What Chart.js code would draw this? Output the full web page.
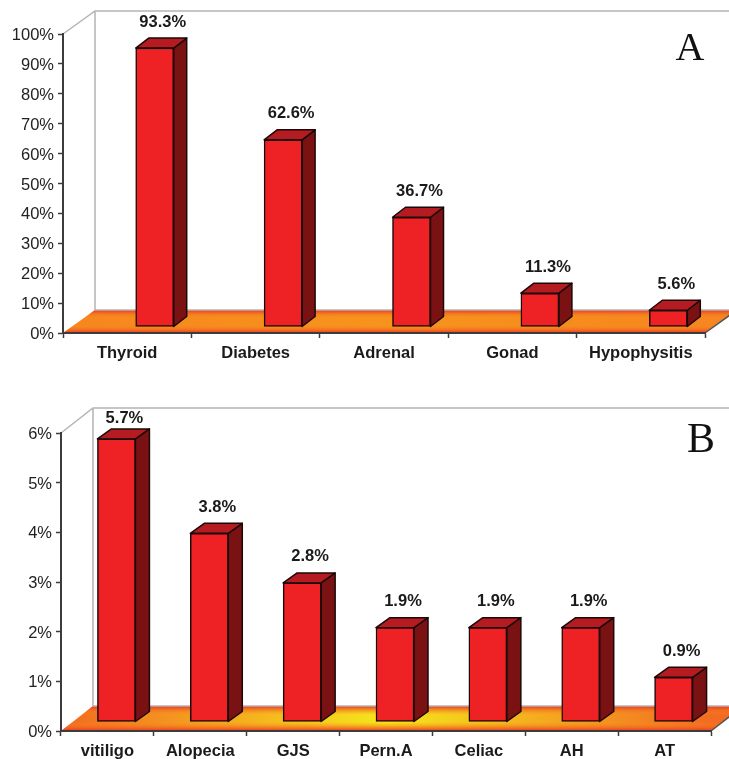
<!DOCTYPE html>
<html>
<head>
<meta charset="utf-8">
<style>
  html, body { margin: 0; padding: 0; background: #fff; }
  canvas { position: absolute; left: 0; }
  #chartA { top: 0; }
  #chartB { top: 380px; }
</style>
<script src="https://cdn.jsdelivr.net/npm/chart.js@4.4.3/dist/chart.umd.js"></script>
</head>
<body>
<canvas id="chartA"></canvas>
<canvas id="chartB"></canvas>
<script>
// panel A : endocrine
const categoriesA = ['Thyroid', 'Diabetes', 'Adrenal', 'Gonad', 'Hypophysitis'];
const valuesA = [93.3, 62.6, 36.7, 11.3, 5.6];
// panel B : other sites
const categoriesB = ['vitiligo', 'Alopecia', 'GJS', 'Pern.A', 'Celiac', 'AH', 'AT'];
const valuesB = [5.7, 3.8, 2.8, 1.9, 1.9, 1.9, 0.9];

const FRONT = '#ee2224', TOP = '#b51c22', SIDE = '#7a1214', EDGE = '#1c0808';
const FONT = '"Liberation Sans", Arial, sans-serif';

// draws the floor and back wall behind the scales
function drawRoom(chart, p) {
    const { ctx, chartArea: a, width } = chart;
    const bx = a.left + p.depth[0], by = a.bottom + p.depth[1];
    const topY = a.top + p.depth[1];
    ctx.save();
    ctx.beginPath();
    ctx.moveTo(a.left, a.bottom);
    ctx.lineTo(a.right, a.bottom);
    ctx.lineTo(a.right + p.depth[0], by);
    ctx.lineTo(bx, by);
    ctx.closePath();
    ctx.clip();
    const h = ctx.createLinearGradient(a.left, 0, a.right, 0);
    h.addColorStop(0, p.floorEnd);
    h.addColorStop(0.5, p.floorMid);
    h.addColorStop(1, p.floorEnd);
    ctx.fillStyle = h;
    ctx.fillRect(0, by, width, a.bottom - by);
    const v = ctx.createLinearGradient(0, by, 0, a.bottom);
    v.addColorStop(0, 'rgba(236,50,36,1)');
    v.addColorStop(0.16, 'rgba(242,100,32,0.6)');
    v.addColorStop(0.36, 'rgba(247,148,29,0)');
    v.addColorStop(0.64, 'rgba(247,148,29,0)');
    v.addColorStop(0.84, 'rgba(242,100,32,0.6)');
    v.addColorStop(1, 'rgba(236,50,36,1)');
    ctx.fillStyle = v;
    ctx.fillRect(0, by, width, a.bottom - by);
    ctx.restore();

    ctx.save();
    ctx.strokeStyle = '#b4b4b4';
    ctx.lineWidth = 1.5;
    ctx.beginPath();
    ctx.moveTo(a.left, a.top);
    ctx.lineTo(bx, topY);
    ctx.lineTo(width, topY);
    ctx.moveTo(bx, topY);
    ctx.lineTo(bx, by);
    ctx.lineTo(width, by);
    ctx.stroke();
    ctx.strokeStyle = '#555';
    ctx.beginPath();
    ctx.moveTo(a.right, a.bottom);
    ctx.lineTo(a.right + p.depth[0], by);
    ctx.stroke();
    ctx.restore();
}

function face(ctx, pts, fill) {
    ctx.beginPath();
    pts.forEach((pt, i) => i ? ctx.lineTo(pt[0], pt[1]) : ctx.moveTo(pt[0], pt[1]));
    ctx.closePath();
    ctx.fillStyle = fill;
    ctx.fill();
    ctx.stroke();
}

const box3d = {
    id: 'box3d',
    // value labels sit a touch lower against their ticks in the original
    afterUpdate(chart) {
        chart.scales.y.getLabelItems().forEach(item => { item.options.translation[1] += 1.5; });
    },
    beforeDraw(chart, args, p) {
        drawRoom(chart, p);
    },
    // bars sit forward of the axis plane, so the whole dataset is shifted
    beforeDatasetDraw(chart, args, p) {
        const ctx = chart.ctx;
        ctx.save();
        ctx.translate(p.shift[0], p.shift[1]);
        ctx.strokeStyle = EDGE;
        ctx.lineWidth = 1.5;
        ctx.lineJoin = 'round';
        const dx = p.side[0], dy = p.side[1];
        chart.getDatasetMeta(args.index).data.forEach(bar => {
            const hw = bar.width / 2, l = bar.x - hw, r = bar.x + hw;
            face(ctx, [[r, bar.y], [r + dx, bar.y + dy], [r + dx, bar.base + dy], [r, bar.base]], SIDE);
            face(ctx, [[l, bar.y], [l + dx, bar.y + dy], [r + dx, bar.y + dy], [r, bar.y]], TOP);
        });
    },
    afterDatasetDraw(chart) {
        chart.ctx.restore();
    },
    afterDatasetsDraw(chart, args, p) {
        const ctx = chart.ctx;
        ctx.save();
        ctx.fillStyle = '#1a1a1a';
        ctx.font = 'bold 16.5px ' + FONT;
        ctx.textAlign = 'center';
        ctx.textBaseline = 'middle';
        const values = chart.data.datasets[0].data;
        chart.getDatasetMeta(0).data.forEach((bar, i) => {
            const y = Math.max(bar.y + p.shift[1] - 26, p.labelMinY);
            ctx.fillText(values[i].toFixed(1) + '%', bar.x + p.shift[0] + 8, y);
        });
        ctx.fillStyle = '#111';
        ctx.font = p.letterSize + 'px "Liberation Serif", serif';
        ctx.fillText(p.letter, p.letterAt[0], p.letterAt[1]);
        ctx.restore();
    }
};

function makeChart(id, labels, values, pad, yMax, xHeight, room) {
    return new Chart(document.getElementById(id), {
        type: 'bar',
        data: {
            labels: labels,
            datasets: [{
                data: values,
                backgroundColor: FRONT,
                borderColor: EDGE,
                borderWidth: 1.5,
                borderSkipped: false,
                barThickness: 38,
                clip: false
            }]
        },
        options: {
            responsive: false,
            animation: false,
            layout: { padding: { left: 0, top: pad.top, right: pad.right, bottom: 0 } },
            plugins: {
                legend: { display: false },
                tooltip: { enabled: false },
                box3d: room
            },
            scales: {
                x: {
                    afterFit: s => { s.height = xHeight; },
                    border: { color: '#3c3c3c', width: 2 },
                    grid: { drawOnChartArea: false, tickLength: 5, tickColor: '#3c3c3c', tickWidth: 1.5 },
                    ticks: { color: '#1a1a1a', padding: 6, maxRotation: 0, autoSkip: false,
                             font: { family: FONT, size: 16.5, weight: 'bold' } }
                },
                y: {
                    min: 0,
                    max: yMax,
                    afterFit: s => { s.width = pad.left; },
                    border: { color: '#3c3c3c', width: 2 },
                    grid: { drawOnChartArea: false, tickLength: 5, tickColor: '#3c3c3c', tickWidth: 1.5 },
                    ticks: { stepSize: yMax === 100 ? 10 : 1, color: '#222', padding: 4,
                             font: { family: FONT, size: 16.5 },
                             callback: v => v + '%' }
                }
            }
        },
        plugins: [box3d],
    });
}

function sizeCanvas(id, w, h) {
    const c = document.getElementById(id);
    c.width = w;
    c.height = h;
    c.style.width = w + 'px';
    c.style.height = h + 'px';
}

sizeCanvas('chartA', 729, 380);
sizeCanvas('chartB', 729, 379);

makeChart('chartA', categoriesA, valuesA, { left: 63, top: 34, right: 24 }, 100, 47, {
    depth: [32, -23], side: [13, -10], shift: [27.5, -6],
    floorMid: '#f7941d', floorEnd: '#f6861f', labelMinY: 0,
    letter: 'A', letterSize: 40, letterAt: [690, 49]
});
makeChart('chartB', categoriesB, valuesB, { left: 61, top: 53, right: 18 }, 6, 28, {
    depth: [32, -25], side: [14, -10], shift: [9, -9],
    floorMid: '#f6e61c', floorEnd: '#f26b22', labelMinY: 38,
    letter: 'B', letterSize: 42, letterAt: [701, 61]
});
</script>
</body>
</html>
